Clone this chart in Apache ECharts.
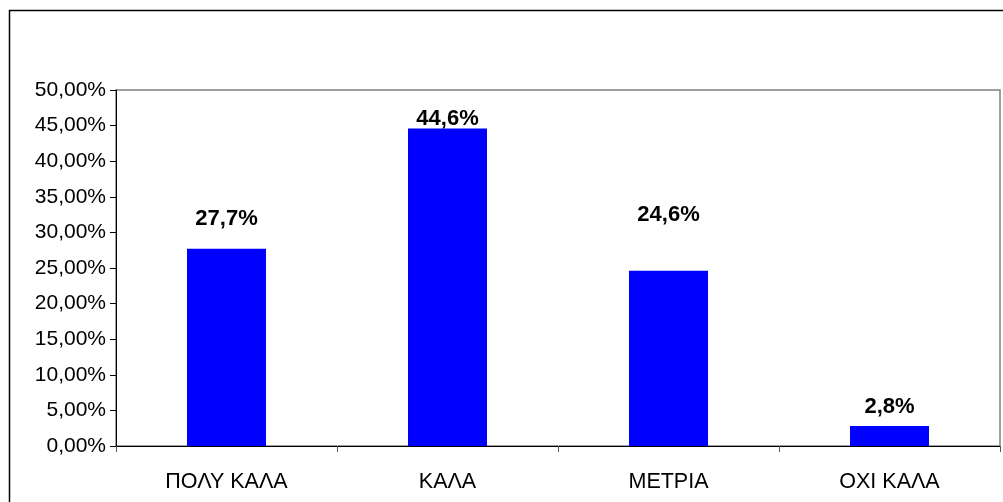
<!DOCTYPE html>
<html>
<head>
<meta charset="utf-8">
<script src="https://cdn.jsdelivr.net/npm/echarts@6/dist/echarts.min.js"></script>
<style>
html,body{margin:0;padding:0;background:#fff;}
#chart{width:1003px;height:502px;}
</style>
</head>
<body>
<div id="chart"></div>
<script>
// ---- data ----
const categories = ['ΠΟΛΥ ΚΑΛΑ', 'ΚΑΛΑ', 'ΜΕΤΡΙΑ', 'ΟΧΙ ΚΑΛΑ'];
const values = [27.7, 44.6, 24.6, 2.8];
const yMin = 0;
const yMax = 50;
const yStep = 5;

// ---- styling (label lift above each bar, px) ----
const labelLift = [19, -1, 45, 8];

const chart = echarts.init(document.getElementById('chart'), null, {renderer: 'canvas'});
const FONT = '"Liberation Sans", Arial, sans-serif';

const option = {
  animation: false,
  backgroundColor: '#ffffff',
  graphic: [{
    type: 'rect',
    shape: {x: 9.5, y: 10.5, width: 1100, height: 600},
    style: {fill: 'none', stroke: '#000', lineWidth: 1.5},
    silent: true, z: 100
  }],
  grid: {
    left: 116, top: 90, right: 3, bottom: 56,
    show: true, borderColor: '#808080', borderWidth: 1.5,
    backgroundColor: '#fff'
  },
  xAxis: {
    type: 'category',
    data: categories,
    axisLine: {lineStyle: {color: '#000', width: 1}},
    axisTick: {show: true, alignWithLabel: false, length: 6, lineStyle: {color: '#555'}},
    axisLabel: {color: '#000', fontFamily: FONT, fontSize: 21.5, margin: 25}
  },
  yAxis: {
    type: 'value',
    min: yMin, max: yMax, interval: yStep,
    splitLine: {show: false},
    axisLine: {show: true, lineStyle: {color: '#000', width: 1}},
    axisTick: {show: true, length: 6, lineStyle: {color: '#000'}},
    axisLabel: {
      color: '#000', fontFamily: FONT, fontSize: 21, margin: 10,
      formatter: v => v.toFixed(2).replace('.', ',') + '%'
    }
  },
  series: [{
    type: 'bar',
    barWidth: 79,
    itemStyle: {color: '#0000FF'},
    data: values.map((v, i) => ({
      value: v,
      label: {
        show: true, position: 'top', distance: labelLift[i],
        formatter: p => p.value.toFixed(1).replace('.', ',') + '%',
        color: '#000', fontFamily: FONT, fontWeight: 'bold', fontSize: 22
      }
    }))
  }]
};
chart.setOption(option);
</script>
</body>
</html>
